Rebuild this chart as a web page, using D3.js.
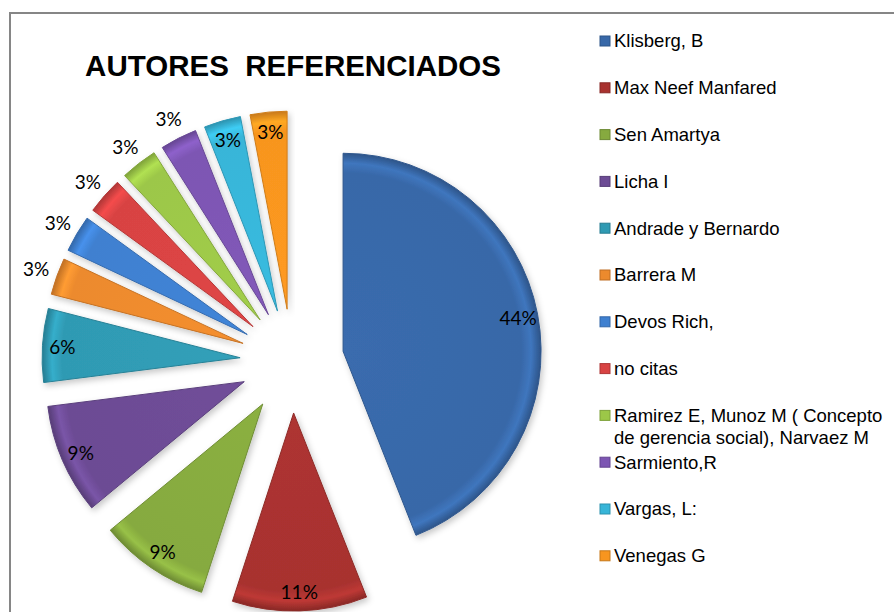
<!DOCTYPE html>
<html lang="es">
<head>
<meta charset="UTF-8">
<title>Autores referenciados</title>
<script src="https://d3js.org/d3.v7.min.js"></script>
<style>
  body { margin: 0; background: #fff; }
</style>
</head>
<body>
<script>
// datos del grafico
var autores = ["Klisberg, B", "Max Neef Manfared", "Sen Amartya", "Licha I",
    "Andrade y Bernardo", "Barrera M", "Devos Rich,", "no citas",
    "Ramirez E, Munoz M ( Concepto de gerencia social), Narvaez M",
    "Sarmiento,R", "Vargas, L:", "Venegas G"];
var porcentajes = [44, 11, 9, 9, 6, 3, 3, 3, 3, 3, 3, 3];
var titulo = "AUTORES  REFERENCIADOS";

// estilo
var colores = ["#3868a8", "#a8322f", "#86aa3f", "#6c4b94", "#2f9ab3", "#ec8a2d",
    "#3f80d0", "#d84343", "#9cc748", "#7d56b3", "#37b5d8", "#f7951f"];
var posEtiqueta = ["in", "in", "in", "in", "in", "out", "out", "out", "out", "out", "in", "in"];

var w = 894, h = 612;
var cx = 292, cy = 361, radio = 198, separa = 52;

var svg = d3.select("body").append("svg")
    .attr("width", w)
    .attr("height", h);

var defs = svg.append("defs");

var sombra = defs.append("filter").attr("id", "sombra")
    .attr("x", "-20%").attr("y", "-20%").attr("width", "140%").attr("height", "140%");
sombra.append("feDropShadow")
    .attr("dx", 2).attr("dy", 3).attr("stdDeviation", 3)
    .attr("flood-color", "#000").attr("flood-opacity", 0.22);

colores.forEach(function(c, i){
    var g = defs.append("radialGradient")
        .attr("id", "grad" + i)
        .attr("gradientUnits", "userSpaceOnUse")
        .attr("cx", 0).attr("cy", 0).attr("r", radio);
    g.append("stop").attr("offset", "0").attr("stop-color", d3.color(c).brighter(0.1));
    g.append("stop").attr("offset", "0.9").attr("stop-color", c);
    g.append("stop").attr("offset", "0.95").attr("stop-color", d3.color(c).brighter(0.35));
    g.append("stop").attr("offset", "1").attr("stop-color", d3.color(c).darker(0.6));
});

// marco
svg.append("rect")
    .attr("x", 10).attr("y", 13)
    .attr("width", 900).attr("height", 620)
    .attr("fill", "#fff")
    .attr("stroke", "#868686")
    .attr("stroke-width", 2);

// titulo
svg.append("text")
    .attr("x", 293).attr("y", 76)
    .attr("text-anchor", "middle")
    .attr("font-family", "Liberation Sans, Arial, sans-serif")
    .attr("font-weight", "bold")
    .attr("font-size", 29.5)
    .style("white-space", "pre")
    .text(titulo);

var pie = d3.pie().sort(null).value(function(d){ return d; });
var arc = d3.arc().innerRadius(0).outerRadius(radio);
var arcos = pie(porcentajes);

var rebanadas = svg.selectAll("g.rebanada")
    .data(arcos)
    .enter()
    .append("g")
    .attr("class", "rebanada")
    .attr("transform", function(d){
        var m = (d.startAngle + d.endAngle) / 2;
        return "translate(" + (cx + Math.sin(m) * separa) + "," + (cy - Math.cos(m) * separa) + ")";
    });

rebanadas.append("path")
    .attr("d", arc)
    .attr("fill", function(d, i){ return "url(#grad" + i + ")"; })
    .attr("stroke", function(d, i){ return d3.color(colores[i]).darker(0.5); })
    .attr("stroke-width", 1)
    .attr("filter", "url(#sombra)");

function posicion(d, i){
    var m = (d.startAngle + d.endAngle) / 2;
    var r = posEtiqueta[i] == "out" ? radio + 22 : radio * 0.9;
    return [Math.sin(m) * r, -Math.cos(m) * r];
}

rebanadas.append("text")
    .attr("x", function(d, i){ return posicion(d, i)[0]; })
    .attr("y", function(d, i){ return posicion(d, i)[1]; })
    .attr("text-anchor", "middle")
    .attr("dominant-baseline", "central")
    .attr("font-family", "Lato, sans-serif")
    .attr("font-size", 19)
    .attr("fill", "#000")
    .text(function(d){ return d.data + "%"; });

// leyenda
var leyenda = svg.selectAll("g.leyenda")
    .data(autores)
    .enter()
    .append("g")
    .attr("class", "leyenda")
    .attr("transform", function(d, i){ return "translate(600," + (41 + i * 46.8) + ")"; });

leyenda.append("rect")
    .attr("x", 0).attr("y", -5)
    .attr("width", 10).attr("height", 10)
    .attr("fill", function(d, i){ return colores[i]; })
    .attr("stroke", function(d, i){ return d3.color(colores[i]).darker(0.6); })
    .attr("stroke-width", 1);

leyenda.append("text")
    .attr("x", 14)
    .attr("font-family", "Liberation Sans, Arial, sans-serif")
    .attr("font-size", 18.5)
    .attr("fill", "#000")
    .each(function(d){
        var t = d3.select(this);
        var palabras = d.split(" ");
        var linea = [];
        var n = 0;
        var ts = t.append("tspan").attr("x", 14).attr("y", 0).attr("dy", "0.35em");
        palabras.forEach(function(p){
            linea.push(p);
            ts.text(linea.join(" "));
            if (ts.node().getComputedTextLength() > 280 && linea.length > 1){
                linea.pop();
                ts.text(linea.join(" "));
                linea = [p];
                n++;
                ts = t.append("tspan").attr("x", 14).attr("y", n * 22).attr("dy", "0.35em").text(p);
            }
        });
    });
</script>
</body>
</html>
